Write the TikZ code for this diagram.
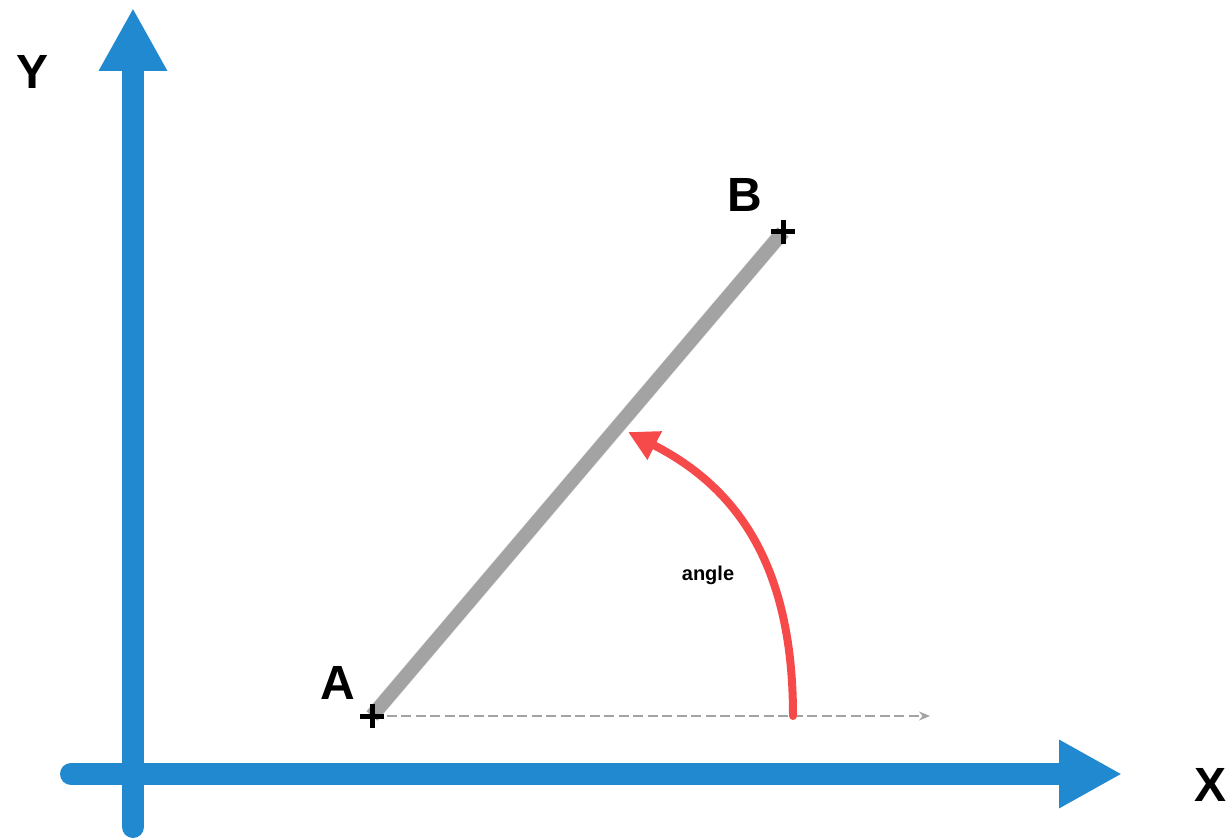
\documentclass[tikz,border=0pt]{standalone}
\usepackage{fontspec}
\setmainfont{Liberation Sans}
\usepackage{xcolor}
\usetikzlibrary{arrows.meta, positioning}
\definecolor{axisblue}{RGB}{32,137,207}
\definecolor{rodgray}{RGB}{163,163,163}
\definecolor{arcred}{RGB}{246,74,74}

\begin{document}
\begin{tikzpicture}[x=1pt, y=1pt, >=Stealth,
  axis/.style={line width=22pt, axisblue, line cap=round, -{Triangle[length=63pt, width=64pt]}},
  letter/.style={font=\fontsize{48}{52}\selectfont\bfseries},
  crossmark/.style={line width=5pt, black}]
  \useasboundingbox (0,0) rectangle (1231,839);
  % axes
  \coordinate (ybot) at (133,12);
  \coordinate (ytop) at (133,831);
  \coordinate (xleft) at (71,65);
  \coordinate (xright) at (1122,65);
  \draw[axis] (ybot) -- (ytop);
  \draw[axis] (xleft) -- (xright);
  \node[letter] (laby) at (33,767) {Y};
  \node[letter] (labx) at (1210,54) {X};
  % the rod and its end points
  \coordinate (pta) at (372,123);
  \coordinate (ptb) at (783,607);
  \coordinate (guideend) at (930,123);
  \draw[black!12, line width=15pt, shift={(2,-3)}] (pta) -- (ptb);
  \draw[rodgray, line width=14pt] (pta) -- (ptb);
  \draw[rodgray, line width=2.5pt, dash pattern=on 10pt off 4.5pt, -{Stealth[length=11pt, width=9pt]}] (pta) -- (guideend);
  \foreach \p in {pta, ptb}
    \draw[crossmark] (\p) ++(-12,0) -- ++(24,0) (\p) ++(0,-12) -- ++(0,24);
  \node[letter] (laba) at (338,156) {A};
  \node[letter] (labb) at (745,644) {B};
  % angle
  \coordinate (arcstart) at (793,123);
  \coordinate (arcend) at (628,407);
  \draw[arcred, line width=8pt, line cap=round, -{Triangle[length=30pt, width=30pt]}]
    (arcstart) .. controls (793,270) and (740,350) .. (arcend);
  \node[font=\fontsize{20}{24}\selectfont\bfseries] (lbangle) at (708,264) {angle};
\end{tikzpicture}
\end{document}
